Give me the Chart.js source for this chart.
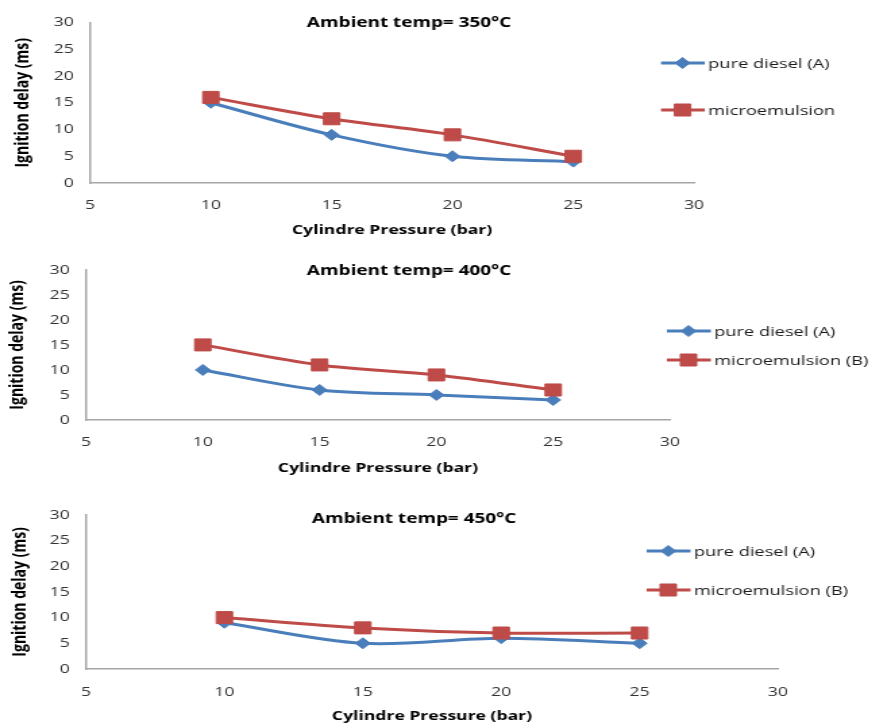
<!DOCTYPE html>
<html>
<head>
<meta charset="utf-8">
<script src="https://cdn.jsdelivr.net/npm/chart.js@4.4.1/dist/chart.umd.min.js"></script>
<style>
  body { margin: 0; background: #fff; width: 871px; height: 725px; overflow: hidden; position: relative; }
  /* the original picture is stretched sideways, so each chart is too */
  .caixa { position: absolute; left: 0; width: 646px; transform: scaleX(1.35); transform-origin: 0 0; }
</style>
</head>
<body>
<div class="caixa" style="top:0px"><canvas id="g350" width="646" height="245"></canvas></div>
<div class="caixa" style="top:250px"><canvas id="g400" width="646" height="230"></canvas></div>
<div class="caixa" style="top:495px"><canvas id="g450" width="646" height="230"></canvas></div>
<script>
const pressao = [10, 15, 20, 25];

const diesel350 = [15, 9, 5, 4];
const micro350 = [16, 12, 9, 5];
const diesel400 = [10, 6, 5, 4];
const micro400 = [15, 11, 9, 6];
const diesel450 = [9, 5, 6, 5];
const micro450 = [10, 8, 7, 7];

const titulos = ['Ambient temp= 350°C', 'Ambient temp= 400°C', 'Ambient temp= 450°C'];
const legendaA = 'pure diesel (A)';
const legendasB = ['microemulsion', 'microemulsion (B)', 'microemulsion (B)'];
const tituloX = 'Cylindre Pressure (bar)';
const tituloY = 'Ignition delay (ms)';

const azul = '#4A7EBB';
const vermelho = '#BE4B48';
const fonte = '"Open Sans", sans-serif';

// title + legend drawn by hand, so they land where the original has them
const decoracao = {
	id: 'decoracao',
	afterDraw(chart, args, opts) {
		const ctx = chart.ctx;
		ctx.save();
		ctx.fillStyle = '#000';
		ctx.font = 'bold 14px ' + fonte;
		ctx.textAlign = 'center';
		ctx.textBaseline = 'middle';
		ctx.fillText(opts.titulo, opts.tituloX, opts.tituloY);

		chart.data.datasets.forEach((ds, i) => {
			let y = opts.legendaY[i];
			let x = opts.legendaX;
			ctx.strokeStyle = ds.borderColor;
			ctx.lineWidth = 3;
			ctx.beginPath();
			ctx.moveTo(x, y);
			ctx.lineTo(x + 32.5, y);
			ctx.stroke();
			ctx.fillStyle = ds.backgroundColor;
			ctx.lineWidth = 1;
			Chart.helpers.drawPoint(ctx, { pointStyle: ds.pointStyle, radius: ds.pointRadius, rotation: 0, borderWidth: 1 }, x + 16, y);
			ctx.fillStyle = '#1a1a1a';
			ctx.font = '13.5px ' + fonte;
			ctx.textAlign = 'left';
			ctx.fillText(ds.label, x + 35, y + 1);
		});
		ctx.restore();
	}
};

function pontos(valores) {
	let temp = [];
	pressao.map((p, i) => {
		temp.push({ x: p, y: valores[i] });
	});
	return temp;
}

function montaGrafico(id, dadosA, dadosB, labelB, titulo, cfg) {
	new Chart(document.getElementById(id), {
		type: 'line',
		data: {
			datasets: [{
				label: legendaA,
				data: pontos(dadosA),
				borderColor: azul,
				backgroundColor: azul,
				pointStyle: 'rectRot',
				pointRadius: 5.5,
				pointBorderWidth: 1,
				borderWidth: 3,
				tension: 0.33,
				order: 1
			}, {
				label: labelB,
				data: pontos(dadosB),
				borderColor: vermelho,
				backgroundColor: vermelho,
				pointStyle: 'rect',
				pointRadius: 8.5,
				pointBorderWidth: 1,
				borderWidth: 3,
				tension: 0.33,
				order: 0
			}]
		},
		options: {
			responsive: false,
			animation: false,
			layout: {
				padding: { left: 4, top: cfg.topo, right: cfg.direita, bottom: cfg.baixo }
			},
			plugins: {
				legend: { display: false },
				tooltip: { enabled: false },
				decoracao: {
					titulo: titulo,
					tituloX: cfg.tituloX,
					tituloY: cfg.tituloY,
					legendaX: cfg.legendaX,
					legendaY: cfg.legendaY
				}
			},
			scales: {
				x: {
					type: 'linear',
					min: 5,
					max: 30,
					ticks: { stepSize: 5, padding: cfg.xPad, color: '#333', font: { family: fonte, size: 13 } },
					grid: { display: false, drawTicks: false },
					border: { color: '#a6a6a6', width: 1.5 },
					title: {
						display: true,
						text: tituloX,
						color: '#000',
						font: { family: fonte, size: 13, weight: 'bold' },
						padding: { top: 0, bottom: cfg.xTitPad }
					},
					afterFit: (s) => { s.height = cfg.xAltura; }
				},
				y: {
					type: 'linear',
					min: 0,
					max: 30,
					ticks: { stepSize: 5, padding: 12, color: '#333', font: { family: fonte, size: 13 } },
					grid: { display: false, drawTicks: false },
					border: { color: '#a6a6a6', width: 1.5 },
					title: {
						display: true,
						text: tituloY,
						color: '#000',
						font: { family: fonte, size: 14, weight: 'bold' },
						padding: { top: cfg.yTitPad, bottom: 0 }
					},
					afterFit: (s) => { s.width = cfg.yLargura; }
				}
			}
		},
		plugins: [decoracao]
	});
}

montaGrafico('g350', diesel350, micro350, legendasB[0], titulos[0], {
	topo: 22.5, direita: 131.9, baixo: 3, xAltura: 59, yLargura: 62.7,
	xPad: 14, xTitPad: 4.2, yTitPad: 4.6,
	tituloX: 303, tituloY: 23, legendaX: 489.6, legendaY: [63, 110]
});

montaGrafico('g400', diesel400, micro400, legendasB[1], titulos[1], {
	topo: 15, direita: 149.7, baixo: 0, xAltura: 60, yLargura: 59.7,
	xPad: 14, xTitPad: 4.2, yTitPad: 0.2,
	tituloX: 303, tituloY: 20.7, legendaX: 494, legendaY: [81, 110]
});

montaGrafico('g450', diesel450, micro450, legendasB[2], titulos[2], {
	topo: 14, direita: 69.7, baixo: 0, xAltura: 56, yLargura: 59.7,
	xPad: 15, xTitPad: 0.5, yTitPad: 2.4,
	tituloX: 306.7, tituloY: 24, legendaX: 479, legendaY: [56, 95]
});
</script>
</body>
</html>
